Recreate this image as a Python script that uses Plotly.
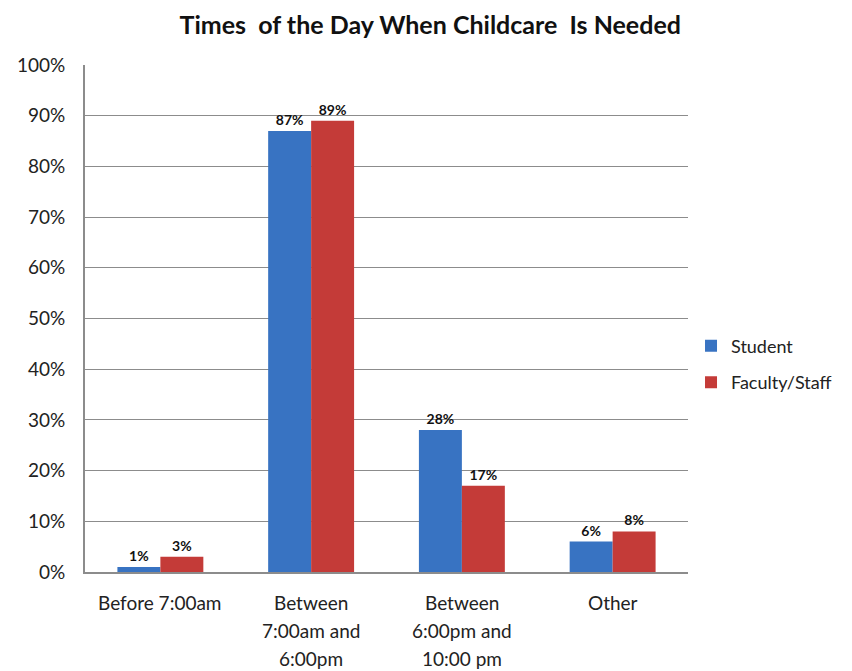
import plotly.graph_objects as go

categories = ["Before 7:00am", "Between 7:00am and 6:00pm", "Between 6:00pm and 10:00 pm", "Other"]
category_lines = [["Before 7:00am"], ["Between", "7:00am and", "6:00pm"],
                  ["Between", "6:00pm and", "10:00 pm"], ["Other"]]
student = [1, 87, 28, 6]
faculty_staff = [3, 89, 17, 8]

FONT = "Lato, 'Open Sans', sans-serif"

fig = go.Figure()
for name, vals, color in [("Student", student, "#3873C2"),
                          ("Faculty/Staff", faculty_staff, "#C43B38")]:
    fig.add_trace(go.Bar(
        name=name, legendgroup=name, x=categories, y=vals,
        marker=dict(color=color, line=dict(width=0)),
        text=[f"<b>{v}%</b>" for v in vals], textposition="outside",
        textfont=dict(family=FONT, size=14, color="#111"),
        cliponaxis=False,
    ))

# multi-line category labels with wide line spacing
annotations = []
for cat, lines in zip(categories, category_lines):
    for i, line in enumerate(lines):
        annotations.append(dict(
            x=cat, xref="x", y=0, yref="paper", yanchor="middle",
            yshift=-(30 + 28 * i), text=line, showarrow=False,
            font=dict(family=FONT, size=19, color="#222")))

fig.update_layout(
    width=852, height=671,
    margin=dict(l=85, r=164, t=65, b=99, autoexpand=False),
    paper_bgcolor="white", plot_bgcolor="white",
    barmode="group", bargap=0.43, bargroupgap=0,
    title=dict(text="<b>Times  of the Day When Childcare  Is Needed</b>",
               x=0.505, xanchor="center", y=0.963, yanchor="middle",
               font=dict(family=FONT, size=25, color="#111")),
    font=dict(family=FONT, size=19, color="#222"),
    legend=dict(x=1.005, xanchor="left", y=0.41, yanchor="middle",
                font=dict(family=FONT, size=18, color="#222"),
                traceorder="grouped", tracegroupgap=10, itemwidth=30),
    showlegend=True,
    annotations=annotations,
)
fig.update_yaxes(range=[0, 100], dtick=10, ticksuffix="%",
                 showgrid=True, gridcolor="#8c8c8c", gridwidth=1,
                 showline=True, linecolor="#8c8c8c", linewidth=2,
                 ticks="", ticklabelstandoff=14,
                 tickfont=dict(family=FONT, size=19, color="#222"),
                 zeroline=False)
fig.update_xaxes(showline=True, linecolor="#8c8c8c", linewidth=2,
                 ticks="", showticklabels=False)

fig.write_html("out.html")
